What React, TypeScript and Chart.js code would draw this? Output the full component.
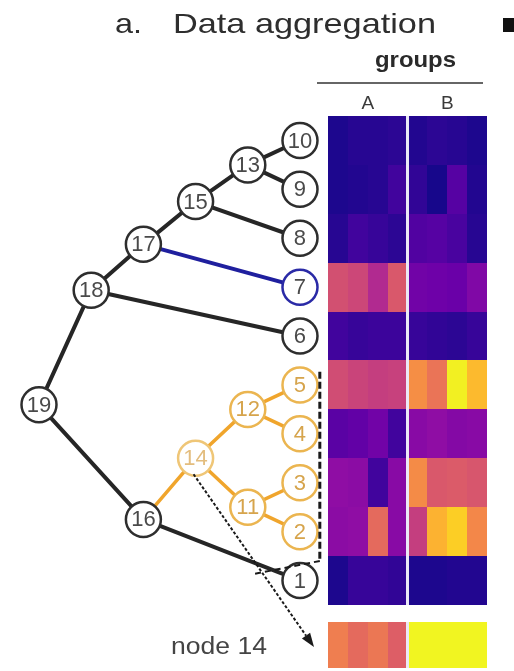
import React, { useEffect, useRef } from "react";
import { Chart, registerables } from "chart.js";
Chart.register(...registerables);

// ---- dendrogram structure ----
const leafOrder = [10, 9, 8, 7, 6, 5, 4, 3, 2, 1]; // top to bottom
const mergeIds = [11, 12, 13, 14, 15, 16, 17, 18, 19];
const mergeUpper = [3, 5, 10, 12, 13, 14, 15, 17, 18];
const mergeLower = [2, 4, 9, 11, 8, 1, 7, 6, 16];
const mergeHeights = [1, 1, 1, 2, 2, 3, 3, 4, 5];
const highlightedClade = 14;
const selectedLeaf = 7;

// ---- heatmap values (plasma scale 0..1), rows follow leafOrder ----
const groupLabels = ["A", "B"];
const groupA = [
  [0.03, 0.05, 0.05, 0.06],
  [0.03, 0.04, 0.05, 0.1],
  [0.05, 0.1, 0.08, 0.06],
  [0.53, 0.5, 0.4, 0.56],
  [0.1, 0.08, 0.09, 0.09],
  [0.52, 0.49, 0.47, 0.48],
  [0.16, 0.18, 0.22, 0.1],
  [0.3, 0.29, 0.1, 0.28],
  [0.29, 0.3, 0.62, 0.28],
  [0.03, 0.08, 0.08, 0.07],
];
const groupB = [
  [0.04, 0.06, 0.05, 0.03],
  [0.07, 0.02, 0.15, 0.04],
  [0.14, 0.15, 0.12, 0.05],
  [0.22, 0.21, 0.2, 0.26],
  [0.08, 0.07, 0.06, 0.08],
  [0.73, 0.65, 0.98, 0.85],
  [0.28, 0.3, 0.27, 0.28],
  [0.72, 0.56, 0.57, 0.55],
  [0.47, 0.83, 0.9, 0.71],
  [0.03, 0.03, 0.04, 0.04],
];
const node14A = [0.68, 0.62, 0.66, 0.58];
const node14B = [0.99, 0.99, 0.99, 0.99];
const aggregateLabel = "node 14";

// plasma colormap stops
const plasmaStops = [
  "#0d0887", "#41049d", "#6a00a8", "#8f0da4", "#b12a90", "#cc4778",
  "#e16462", "#f2844b", "#fca636", "#fcce25", "#f0f921",
];
function hexToRgb(h: string) {
  return [parseInt(h.slice(1, 3), 16), parseInt(h.slice(3, 5), 16), parseInt(h.slice(5, 7), 16)];
}
function plasma(t: number) {
  const v = Math.max(0, Math.min(1, t)) * (plasmaStops.length - 1);
  const i = Math.min(plasmaStops.length - 2, Math.floor(v));
  const f = v - i;
  const a = hexToRgb(plasmaStops[i]);
  const b = hexToRgb(plasmaStops[i + 1]);
  const c = a.map((x, k) => Math.round(x + (b[k] - x) * f));
  return `rgb(${c[0]},${c[1]},${c[2]})`;
}

// ---- build tree positions ----
type P = { x: number; y: number };
const pos: Record<number, P> = {};
leafOrder.forEach((id, i) => (pos[id] = { x: 0, y: i }));
mergeIds.forEach((id, i) => {
  pos[id] = { x: mergeHeights[i], y: (pos[mergeUpper[i]].y + pos[mergeLower[i]].y) / 2 };
});
const childrenOf: Record<number, number[]> = {};
mergeIds.forEach((id, i) => (childrenOf[id] = [mergeUpper[i], mergeLower[i]]));
const cladeSet = new Set<number>();
(function collect(id: number) {
  cladeSet.add(id);
  (childrenOf[id] || []).forEach(collect);
})(highlightedClade);

const BLACK = "#262626";
const BLUE = "#1f1f9e";
const ORANGE = "#f0a52c";
const allNodes = [...leafOrder, ...mergeIds];

function nodeStroke(id: number) {
  if (id === highlightedClade) return "#efc677";
  if (cladeSet.has(id)) return "#ebb550";
  if (id === selectedLeaf) return "#2a2aa6";
  return "#2e2e2e";
}
function nodeText(id: number) {
  if (id === highlightedClade) return "#e3bd7e";
  if (cladeSet.has(id)) return "#d6a44c";
  return "#4a4a4a";
}

// annotations (data units of dendrogram scale)
const bracketX = -0.38;
const bracketTop = 4.73;
const bracketBottom = 8.6;
const bracketTailX = 0.86;
const bracketTailY = 8.86;
const aggregateRowY = 10.32;
const aggregateHalf = 0.47;

function drawFitted(ctx: CanvasRenderingContext2D, text: string, x: number, y: number, font: string, width: number, align: "left" | "center") {
  ctx.save();
  ctx.font = font;
  ctx.textAlign = "left";
  ctx.textBaseline = "alphabetic";
  const w = ctx.measureText(text).width;
  const s = width / w;
  ctx.translate(x, y);
  ctx.scale(s, 1);
  ctx.fillText(text, align === "center" ? -w / 2 : 0, 0);
  ctx.restore();
}

const figurePlugin = {
  id: "figure",
  beforeDatasetsDraw(chart: any) {
    const ctx: CanvasRenderingContext2D = chart.ctx;
    const xh = chart.scales.xh;
    const y = chart.scales.y;
    const drawRow = (vals: number[], c0: number, yc: number, half: number) => {
      vals.forEach((v, k) => {
        const c = c0 + k;
        const l = Math.round(xh.getPixelForValue(c - 0.5));
        const r = Math.round(xh.getPixelForValue(c + 0.5));
        const t = Math.round(y.getPixelForValue(yc - half));
        const b = Math.round(y.getPixelForValue(yc + half));
        ctx.fillStyle = plasma(v);
        ctx.fillRect(l, t, r - l, b - t);
      });
    };
    ctx.save();
    leafOrder.forEach((_, i) => {
      drawRow(groupA[i], 0, i, 0.5);
      drawRow(groupB[i], 4, i, 0.5);
    });
    drawRow(node14A, 0, aggregateRowY, aggregateHalf);
    drawRow(node14B, 4, aggregateRowY, aggregateHalf);
    // group separator
    ctx.strokeStyle = "#ebe9f6";
    ctx.lineWidth = 3;
    const sx = xh.getPixelForValue(3.5);
    ctx.beginPath();
    ctx.moveTo(sx, y.getPixelForValue(-0.5));
    ctx.lineTo(sx, y.getPixelForValue(leafOrder.length - 0.5));
    ctx.moveTo(sx, y.getPixelForValue(aggregateRowY - aggregateHalf));
    ctx.lineTo(sx, y.getPixelForValue(aggregateRowY + aggregateHalf));
    ctx.stroke();
    ctx.restore();
  },
  afterDatasetsDraw(chart: any) {
    const ctx: CanvasRenderingContext2D = chart.ctx;
    const x = chart.scales.x;
    const xh = chart.scales.xh;
    const y = chart.scales.y;
    const meta = chart.getDatasetMeta(chart.data.datasets.length - 1);
    ctx.save();
    // node labels
    ctx.font = '22px "Liberation Sans", Arial, sans-serif';
    ctx.textAlign = "center";
    ctx.textBaseline = "middle";
    allNodes.forEach((id, i) => {
      const el = meta.data[i];
      ctx.fillStyle = nodeText(id);
      ctx.fillText(String(id), el.x, el.y + 1);
    });
    // bracket
    ctx.strokeStyle = "#1a1a1a";
    ctx.lineWidth = 3;
    ctx.setLineDash([7, 3]);
    ctx.beginPath();
    ctx.moveTo(x.getPixelForValue(bracketX), y.getPixelForValue(bracketTop));
    ctx.lineTo(x.getPixelForValue(bracketX), y.getPixelForValue(bracketBottom));
    ctx.stroke();
    ctx.lineWidth = 2;
    ctx.setLineDash([6, 4]);
    ctx.beginPath();
    ctx.moveTo(x.getPixelForValue(bracketX), y.getPixelForValue(bracketBottom));
    ctx.lineTo(x.getPixelForValue(bracketTailX), y.getPixelForValue(bracketTailY));
    ctx.stroke();
    // arrow from node 14 to aggregate row
    const n14 = meta.data[allNodes.indexOf(highlightedClade)];
    const sx = n14.x - 2;
    const sy = n14.y + 16;
    const ex = xh.getPixelForValue(-0.5) - 14;
    const ey = y.getPixelForValue(aggregateRowY) + 2;
    const dx = ex - sx, dy = ey - sy;
    const len = Math.hypot(dx, dy);
    const ux = dx / len, uy = dy / len;
    const head = 14;
    ctx.lineWidth = 2;
    ctx.setLineDash([3, 2]);
    ctx.beginPath();
    ctx.moveTo(sx, sy);
    ctx.lineTo(ex - ux * head, ey - uy * head);
    ctx.stroke();
    ctx.setLineDash([]);
    ctx.fillStyle = "#1a1a1a";
    ctx.beginPath();
    ctx.moveTo(ex, ey);
    ctx.lineTo(ex - ux * head - uy * 5, ey - uy * head + ux * 5);
    ctx.lineTo(ex - ux * head + uy * 5, ey - uy * head - ux * 5);
    ctx.closePath();
    ctx.fill();
    ctx.restore();
  },
  afterDraw(chart: any) {
    const ctx: CanvasRenderingContext2D = chart.ctx;
    const xh = chart.scales.xh;
    ctx.save();
    ctx.fillStyle = "#2e2e2e";
    drawFitted(ctx, "a.", 115, 33, '28px "Liberation Sans", Arial, sans-serif', 27, "left");
    drawFitted(ctx, "Data aggregation", 173, 33, '28px "Liberation Sans", Arial, sans-serif', 263, "left");
    // panel marker at far right
    ctx.fillStyle = "#111";
    ctx.fillRect(503, 18, 11, 14);
    // groups header
    ctx.fillStyle = "#2a2a2a";
    const gl = xh.getPixelForValue(-0.5);
    const gr = xh.getPixelForValue(7.5);
    drawFitted(ctx, "groups", (gl + gr) / 2 + 8, 67, 'bold 22px "Liberation Sans", Arial, sans-serif', 81, "center");
    ctx.strokeStyle = "#333";
    ctx.lineWidth = 1.5;
    ctx.beginPath();
    ctx.moveTo(gl - 11, 83);
    ctx.lineTo(gr - 4, 83);
    ctx.stroke();
    ctx.fillStyle = "#3a3a3a";
    ctx.font = '19px "Liberation Sans", Arial, sans-serif';
    ctx.textAlign = "center";
    ctx.textBaseline = "alphabetic";
    groupLabels.forEach((g, i) => {
      ctx.fillText(g, xh.getPixelForValue(i * 4 + 1.5), 109);
    });
    ctx.fillStyle = "#444";
    drawFitted(ctx, aggregateLabel, 171, 654, '23px "Liberation Sans", Arial, sans-serif', 96, "left");
    ctx.restore();
  },
};

export default function App() {
  const ref = useRef<HTMLCanvasElement | null>(null);
  useEffect(() => {
    if (!ref.current) return;
    const edgeSets: any[] = [];
    mergeIds.forEach((id, i) => {
      [mergeUpper[i], mergeLower[i]].forEach((ch) => {
        let color = BLACK;
        let width = 4;
        if (cladeSet.has(ch)) {
          color = ORANGE;
          width = 3.5;
        } else if (ch === selectedLeaf) color = BLUE;
        edgeSets.push({
          type: "scatter",
          data: [pos[id], pos[ch]],
          showLine: true,
          borderColor: color,
          borderWidth: width,
          borderCapStyle: "round",
          pointRadius: 0,
          pointHoverRadius: 0,
          xAxisID: "x",
          yAxisID: "y",
          order: 1,
        });
      });
    });
    const nodeSet = {
      type: "scatter",
      data: allNodes.map((id) => pos[id]),
      pointRadius: 17.5,
      pointHoverRadius: 17.5,
      pointBorderWidth: 2.5,
      pointHoverBorderWidth: 2.5,
      pointBackgroundColor: "#ffffff",
      pointBorderColor: allNodes.map(nodeStroke),
      showLine: false,
      xAxisID: "x",
      yAxisID: "y",
      order: 0,
    };
    const chart = new Chart(ref.current, {
      type: "scatter",
      data: { datasets: [...edgeSets, nodeSet] },
      options: {
        animation: false,
        responsive: false,
        devicePixelRatio: 1,
        events: [],
        layout: { padding: 0, autoPadding: false },
        plugins: { legend: { display: false }, tooltip: { enabled: false }, title: { display: false } },
        scales: {
          x: { type: "linear", min: -4.1, max: 5.747, reverse: true, display: false },
          xh: { type: "linear", axis: "x", position: "top", min: -17.003, max: 8.858, display: false },
          y: { type: "linear", min: -2.872, max: 10.85, reverse: true, display: false },
        },
      } as any,
      plugins: [figurePlugin as any],
    });
    return () => chart.destroy();
  }, []);
  return (
    <div style={{ position: "absolute", left: 0, top: 0, width: 514, height: 671, background: "#fff" }}>
      <canvas ref={ref} width={514} height={671} style={{ display: "block" }} />
    </div>
  );
}
